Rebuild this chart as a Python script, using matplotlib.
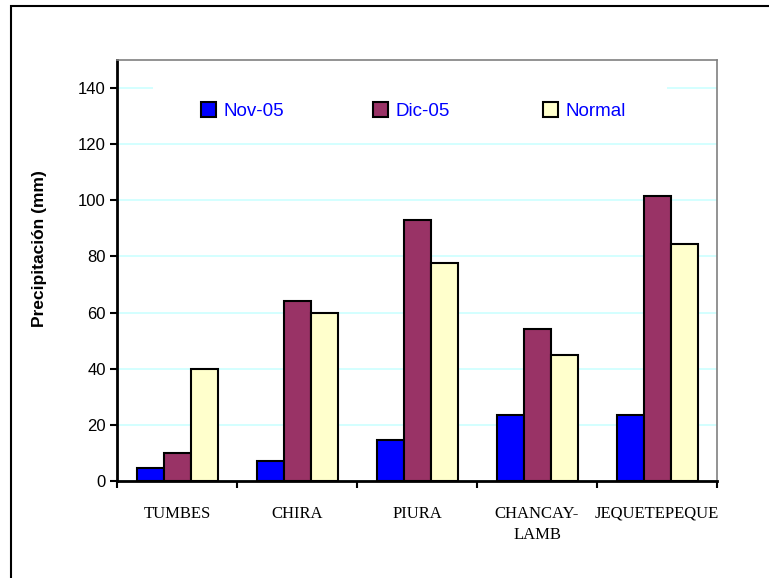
import matplotlib
matplotlib.use("Agg")
import matplotlib.pyplot as plt
from matplotlib.patches import Rectangle, Patch
import numpy as np

# data
cuencas = ["TUMBES", "CHIRA", "PIURA", "CHANCAY-\nLAMB", "JEQUETEPEQUE"]
nov05 = [4.5, 7, 14.5, 23.5, 23.5]
dic05 = [10, 64, 93, 54, 101.5]
normal = [40, 60, 77.5, 45, 84.5]
series = ["Nov-05", "Dic-05", "Normal"]
colors = ["#0000ff", "#993366", "#ffffcc"]
yticks = [0, 20, 40, 60, 80, 100, 120, 140]

fig = plt.figure(figsize=(7.69, 5.78), dpi=100)
ax = fig.add_axes([117/769, 1-481/578, 600/769, 421/578])

x = np.arange(len(cuencas))
w = 0.225
for k, (vals, c) in enumerate(zip([nov05, dic05, normal], colors)):
    ax.bar(x + (k-1)*w, vals, w, color=c, edgecolor="black", linewidth=1.5, zorder=3)

ax.set_xlim(-0.5, len(cuencas)-0.5)
ax.set_ylim(0, 150)
ax.set_yticks(yticks)
ax.set_yticklabels([str(t) for t in yticks], fontsize=12, family="Liberation Sans")
ax.yaxis.grid(True, color="#ccffff", linewidth=1.2, zorder=0)
ax.set_axisbelow(True)

# tick marks at category boundaries, labels at centers
ax.set_xticks(np.arange(-0.5, len(cuencas), 1.0))
ax.set_xticklabels([])
ax.set_xticks(x, minor=True)
ax.set_xticklabels(cuencas, minor=True, fontsize=12, family="Liberation Serif", linespacing=1.45)
ax.tick_params(axis="x", which="minor", length=0, pad=18)
ax.tick_params(axis="both", which="major", length=5, width=1.5, direction="out")
ax.tick_params(axis="y", pad=3)

for s in ["left", "bottom"]:
    ax.spines[s].set_linewidth(2)
    ax.spines[s].set_color("black")
for s in ["top", "right"]:
    ax.spines[s].set_linewidth(1.2)
    ax.spines[s].set_color("#808080")

ax.set_ylabel("Precipitación (mm)", fontsize=12.5, fontweight="bold", family="Liberation Sans")
ax.yaxis.set_label_coords(-0.117, 0.553)

# white box behind the legend hides the top gridline
ax.add_patch(Rectangle((0.06, 128), 0.857, 20, transform=ax.get_yaxis_transform(),
                       facecolor="white", edgecolor="none", zorder=1))

# one legend per entry, equally spaced like the original
hx = [201, 373, 543]
for name, c, px in zip(series, colors, hx):
    lg = fig.legend([Patch(facecolor=c, edgecolor="black", linewidth=1.5)], [name],
                    loc="center left", bbox_to_anchor=(px/769, 1-111/578),
                    frameon=False, borderpad=0, borderaxespad=0,
                    handlelength=0.8, handleheight=0.85,
                    handletextpad=0.4, prop={"family": "Liberation Sans", "size": 13.5})
    for t in lg.get_texts():
        t.set_color("#0000ff")

# outer chart border (left and top visible)
fig.add_artist(Rectangle((11/769, -0.1), 2, 1.1 - 6/578, transform=fig.transFigure,
                         facecolor="none", edgecolor="black", linewidth=1.5))

fig.savefig("out.png", dpi=100)
